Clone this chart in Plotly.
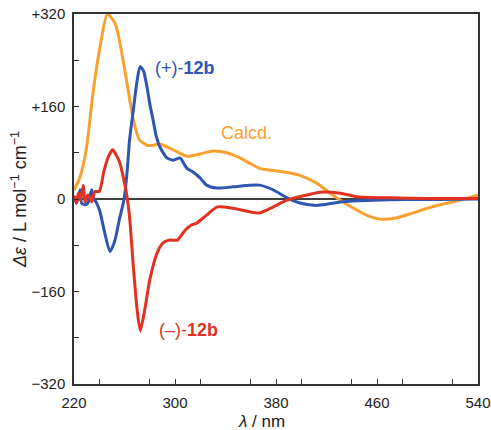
import plotly.graph_objects as go

# CD spectra: wavelength (nm) vs Δε (L mol^-1 cm^-1)
calcd_wl = [220, 224.8, 230, 235, 240.6, 246.4, 252.5, 256.4, 262, 267, 272, 277.8, 283, 288,
            298.5, 309.5, 320, 330, 341, 351.5, 359, 367, 385.5, 399, 412.5, 423, 431, 444,
            454, 463, 475, 488.5, 500, 510, 526, 540]
calcd_de = [15, 38, 90, 183, 263, 320, 304, 270, 200, 137, 102, 93, 93, 95,
            85, 74, 78, 83, 80, 71, 62, 53, 47, 41, 27, 10, -2, -19,
            -30, -35, -33, -24, -16, -10, -2, 7]

plus_wl = [220, 220.8, 222, 224.8, 226, 228.7, 231, 234, 235, 238, 240.6, 244, 248.5, 252,
           256, 259.7, 262, 264, 267, 270, 272.3, 275, 277.8, 280, 282.6, 285, 288, 293.6,
           298.5, 301, 304, 309.5, 314, 320, 325, 333, 346, 359, 367, 377.6, 388.7, 399,
           410, 417, 431, 445, 457, 483, 510, 540]
plus_de = [-5, 1, -7, 16, -7, -10, -7, 16, 4, -7, -22, -55, -91, -75,
           -35, 0, 45, 102, 154, 205, 229, 222, 194, 165, 137, 110, 90, 71,
           67, 69, 71, 53, 47, 36, 24, 19, 21, 24, 24, 16, 2, -7,
           -11, -10, -5, -3, -2, -1, -1, 0]

minus_wl = [220, 220.8, 222, 223.4, 225, 227.4, 228.7, 231, 234, 236.6, 240, 243.6, 247,
            250.6, 253, 256.4, 259, 262, 264, 267, 270, 272.5, 276, 280, 285.7, 290.5,
            296, 302, 308, 313, 317, 325, 333, 346, 359, 367, 377.6, 388.7, 404.5, 417,
            431, 444, 470, 500, 540]
minus_de = [2, 4, -7, 10, -2, 24, -5, 7, -5, 13, 13, 47, 72,
            85, 78, 62, 38, 4, -31, -117, -192, -228, -192, -140, -94, -76,
            -71, -71, -54, -45, -42, -28, -14, -16, -22, -24, -14, -2, 7, 12,
            10, 4, 2, 1, 1]

y_ticks = [-320, -160, 0, 160, 320]
y_tick_labels = ["\u2212320", "\u2212160", "0", "+160", "+320"]
x_ticks = [220, 300, 380, 460, 540]

BLUE = "#2f55b3"
RED = "#e2321f"
ORANGE = "#f9a12e"
FONT = "Liberation Sans, Arial, sans-serif"
INK = "#222222"

fig = go.Figure()
for wl, de, col in [(calcd_wl, calcd_de, ORANGE),
                    (plus_wl, plus_de, BLUE),
                    (minus_wl, minus_de, RED)]:
    fig.add_trace(go.Scatter(x=wl, y=de, mode="lines",
                             line=dict(color=col, width=3, shape="spline", smoothing=0.6),
                             showlegend=False, hoverinfo="skip"))

# zero baseline
fig.add_shape(type="line", xref="x", yref="y", x0=220, x1=540, y0=0, y1=0,
              line=dict(color="black", width=1.5), layer="below")

fig.add_annotation(x=282.6, y=227, text="(+)-<b>12b</b>", showarrow=False, xanchor="left",
                   font=dict(family=FONT, size=18, color=BLUE))
fig.add_annotation(x=335, y=114, text="Calcd.", showarrow=False, xanchor="left",
                   font=dict(family=FONT, size=18, color=ORANGE))
fig.add_annotation(x=285.7, y=-227, text="(\u2013)-<b>12b</b>", showarrow=False, xanchor="left",
                   font=dict(family=FONT, size=18, color=RED))

# x-axis title placed under the tick labels
fig.add_annotation(xref="paper", yref="paper", x=0.463, y=0, yshift=-37,
                   xanchor="center", yanchor="middle", showarrow=False,
                   text="<i>\u03bb</i> / nm", font=dict(family=FONT, size=17, color=INK))

axis_common = dict(showline=True, linecolor="#333333", linewidth=1.5, mirror=True,
                   showgrid=False, zeroline=False, ticks="inside", ticklen=5,
                   tickcolor="#333333", tickwidth=1, ticklabelstandoff=4,
                   automargin=False,
                   tickfont=dict(family=FONT, size=15, color=INK))

fig.update_xaxes(range=[220, 540], tickvals=x_ticks,
                 minor=dict(dtick=40, ticks="inside", ticklen=5, tickcolor="#333333"),
                 **axis_common)
fig.update_yaxes(range=[-320, 320], tickvals=y_ticks, ticktext=y_tick_labels,
                 minor=dict(dtick=80, ticks="inside", ticklen=5, tickcolor="#333333"),
                 title=dict(text="<i>\u0394\u03b5</i> / L mol<sup>\u22121</sup> cm<sup>\u22121</sup>",
                            font=dict(family=FONT, size=18, color=INK), standoff=0),
                 **axis_common)

fig.update_layout(width=491, height=430, margin=dict(l=74, r=13, t=14, b=46),
                  plot_bgcolor="white", paper_bgcolor="white")

fig.write_html("out.html")
